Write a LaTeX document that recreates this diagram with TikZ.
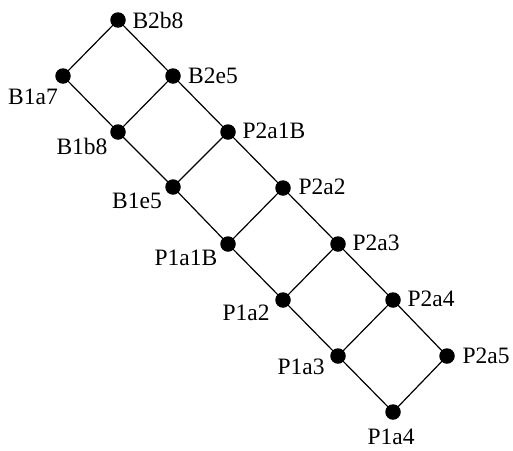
\documentclass[tikz,border=0pt]{standalone}
\usepackage{fontspec}
\setmainfont{Liberation Serif}
\begin{document}
\begin{tikzpicture}[x=1pt,y=-1pt,
  dot/.style={circle,fill=black,inner sep=0pt,minimum size=15.5pt},
  lbl/.style={inner sep=0pt,font=\fontsize{23.5}{26}\selectfont},
  edge/.style={line width=1.2pt}]
\useasboundingbox (0,0) rectangle (513,450);
\node[dot] (B2b8) at (118,20) {};
\node[dot] (B1a7) at (63,76) {};
\node[dot] (B2e5) at (173,76) {};
\node[dot] (B1b8) at (118,132) {};
\node[dot] (P2a1B) at (228,132) {};
\node[dot] (B1e5) at (173,187) {};
\node[dot] (P2a2) at (283,188) {};
\node[dot] (P1a1B) at (228,244) {};
\node[dot] (P2a3) at (338,244) {};
\node[dot] (P1a2) at (283,300) {};
\node[dot] (P2a4) at (393,300) {};
\node[dot] (P1a3) at (338,356) {};
\node[dot] (P2a5) at (447,356) {};
\node[dot] (P1a4) at (393,412) {};
\node[lbl] (tB2b8) at (158,20) {B2b8};
\node[lbl] (tB2e5) at (213,76) {B2e5};
\node[lbl] (tB1a7) at (33,97) {B1a7};
\node[lbl] (tB1b8) at (82,146) {B1b8};
\node[lbl] (tP2a1B) at (274,131) {P2a1B};
\node[lbl] (tB1e5) at (137,201) {B1e5};
\node[lbl] (tP2a2) at (322,187) {P2a2};
\node[lbl] (tP1a1B) at (186,258) {P1a1B};
\node[lbl] (tP2a3) at (376,243) {P2a3};
\node[lbl] (tP1a2) at (246,313) {P1a2};
\node[lbl] (tP2a4) at (431,299) {P2a4};
\node[lbl] (tP1a3) at (301,367) {P1a3};
\node[lbl] (tP2a5) at (486,356) {P2a5};
\node[lbl] (tP1a4) at (391,437) {P1a4};
\draw[edge] (B2b8.center) -- (B1a7.center);
\draw[edge] (B2b8.center) -- (B2e5.center);
\draw[edge] (B1a7.center) -- (B1b8.center);
\draw[edge] (B2e5.center) -- (B1b8.center);
\draw[edge] (B2e5.center) -- (P2a1B.center);
\draw[edge] (B1b8.center) -- (B1e5.center);
\draw[edge] (P2a1B.center) -- (B1e5.center);
\draw[edge] (P2a1B.center) -- (P2a2.center);
\draw[edge] (B1e5.center) -- (P1a1B.center);
\draw[edge] (P2a2.center) -- (P1a1B.center);
\draw[edge] (P2a2.center) -- (P2a3.center);
\draw[edge] (P1a1B.center) -- (P1a2.center);
\draw[edge] (P2a3.center) -- (P1a2.center);
\draw[edge] (P2a3.center) -- (P2a4.center);
\draw[edge] (P1a2.center) -- (P1a3.center);
\draw[edge] (P2a4.center) -- (P1a3.center);
\draw[edge] (P2a4.center) -- (P2a5.center);
\draw[edge] (P1a3.center) -- (P1a4.center);
\draw[edge] (P2a5.center) -- (P1a4.center);
\end{tikzpicture}
\end{document}
